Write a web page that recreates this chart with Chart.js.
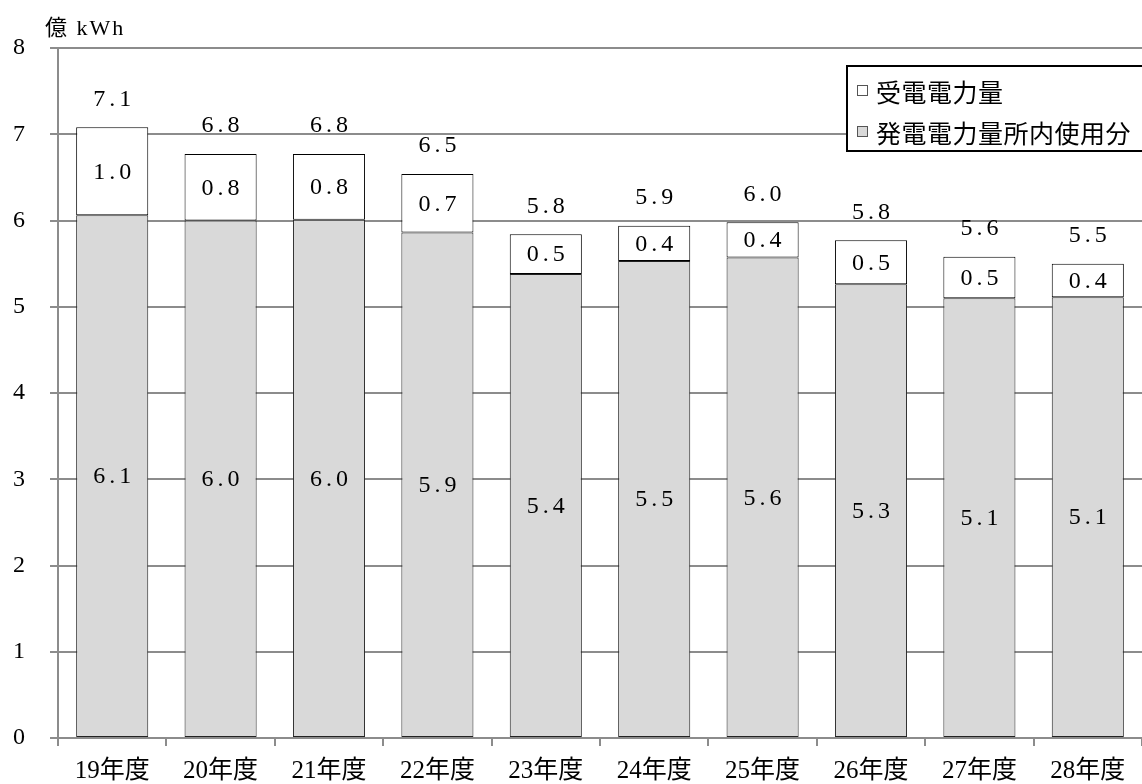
<!DOCTYPE html>
<html><head><meta charset="utf-8">
<script src="https://cdn.jsdelivr.net/npm/chart.js@4/dist/chart.umd.min.js"></script>
<style>html,body{margin:0;padding:0;background:#fff;}#wrap{width:1142px;height:784px;}</style>
</head><body><div id="wrap"><canvas id="c" width="1142" height="784"></canvas></div>
<script>
const categories = ['19年度','20年度','21年度','22年度','23年度','24年度','25年度','26年度','27年度','28年度'];
const selfUse = [6.06, 6.00, 6.01, 5.86, 5.38, 5.53, 5.57, 5.26, 5.10, 5.11];   // 発電電力量所内使用分
const received = [1.02, 0.77, 0.76, 0.68, 0.46, 0.41, 0.41, 0.51, 0.48, 0.39];  // 受電電力量
const yTicks = [0,1,2,3,4,5,6,7,8];
const seriesNames = ['発電電力量所内使用分','受電電力量'];
const unitLabel = '億 kWh';

const SERIF = '"Liberation Serif", "Noto Sans CJK JP", serif';
const GRID = '#8c8c8c';

const labelPlugin = {
  id: 'barLabels',
  afterDatasetsDraw(chart) {
    const ctx = chart.ctx;
    ctx.save();
    ctx.fillStyle = '#000';
    ctx.font = '24px ' + SERIF;
    ctx.textAlign = 'center';
    ctx.textBaseline = 'middle';
    ctx.letterSpacing = '4px';
    chart.data.datasets.forEach((ds, di) => {
      const meta = chart.getDatasetMeta(di);
      meta.data.forEach((el, i) => {
        const cy = (el.y + el.base) / 2;
        ctx.fillText(ds.data[i].toFixed(1), el.x + 2, cy + 1);
      });
    });
    const topMeta = chart.getDatasetMeta(chart.data.datasets.length - 1);
    topMeta.data.forEach((el, i) => {
      const total = selfUse[i] + received[i];
      ctx.fillText(total.toFixed(1), el.x + 2, el.y - 28);
    });
    // unit label
    ctx.textAlign = 'left';
    ctx.letterSpacing = '2px';
    ctx.font = '22px ' + SERIF;
    ctx.fillText(unitLabel, 45, 29);
    ctx.restore();
  }
};

const legendPlugin = {
  id: 'boxLegend',
  afterDraw(chart) {
    const ctx = chart.ctx;
    ctx.save();
    ctx.fillStyle = '#fff';
    ctx.fillRect(847, 66, 300, 85);
    ctx.strokeStyle = '#000';
    ctx.lineWidth = 2;
    ctx.strokeRect(847, 66, 300, 85);
    const items = [1, 0];
    items.forEach((di, k) => {
      const ds = chart.data.datasets[di];
      const cy = 91 + k * 41;
      ctx.fillStyle = ds.backgroundColor;
      ctx.fillRect(857.5, cy - 5.5, 10, 10);
      ctx.strokeStyle = '#555';
      ctx.lineWidth = 1;
      ctx.strokeRect(857.5, cy - 5.5, 10, 10);
      ctx.fillStyle = '#000';
      ctx.font = '25px "Noto Sans CJK JP", sans-serif';
      ctx.textAlign = 'left';
      ctx.textBaseline = 'middle';
      ctx.letterSpacing = '0.5px';
      ctx.fillText(ds.label, 876, cy + 1);
    });
    ctx.restore();
  }
};

new Chart(document.getElementById('c'), {
  type: 'bar',
  data: {
    labels: categories,
    datasets: [
      { label: seriesNames[0], data: selfUse, backgroundColor: '#d9d9d9', borderColor: '#222', borderWidth: 1, borderSkipped: false, categoryPercentage: 1, barPercentage: 0.665 },
      { label: seriesNames[1], data: received, backgroundColor: '#ffffff', borderColor: '#000', borderWidth: 1, borderSkipped: false, categoryPercentage: 1, barPercentage: 0.665 }
    ]
  },
  options: {
    responsive: false,
    animation: false,
    layout: { padding: { top: 48, left: 0, right: 0, bottom: 0 } },
    plugins: { legend: { display: false }, tooltip: { enabled: false }, title: { display: false } },
    scales: {
      x: {
        stacked: true,
        grid: { offset: true, drawOnChartArea: false, drawTicks: true, tickLength: 8, color: GRID, lineWidth: 2 },
        border: { color: GRID, width: 2 },
        ticks: { color: '#000', font: { size: 25, family: SERIF }, padding: 10, maxRotation: 0 },
        afterFit(s) { s.height = 46; }
      },
      y: {
        stacked: true,
        min: 0, max: 8,
        afterBuildTicks(s) { s.ticks = yTicks.map(v => ({ value: v })); },
        grid: { color: GRID, lineWidth: 2, tickLength: 8 },
        border: { color: GRID, width: 2 },
        ticks: { color: '#000', font: { size: 24, family: SERIF }, padding: 25 },
        afterFit(s) { s.width = 58; }
      }
    }
  },
  plugins: [labelPlugin, legendPlugin]
});
</script></body></html>
